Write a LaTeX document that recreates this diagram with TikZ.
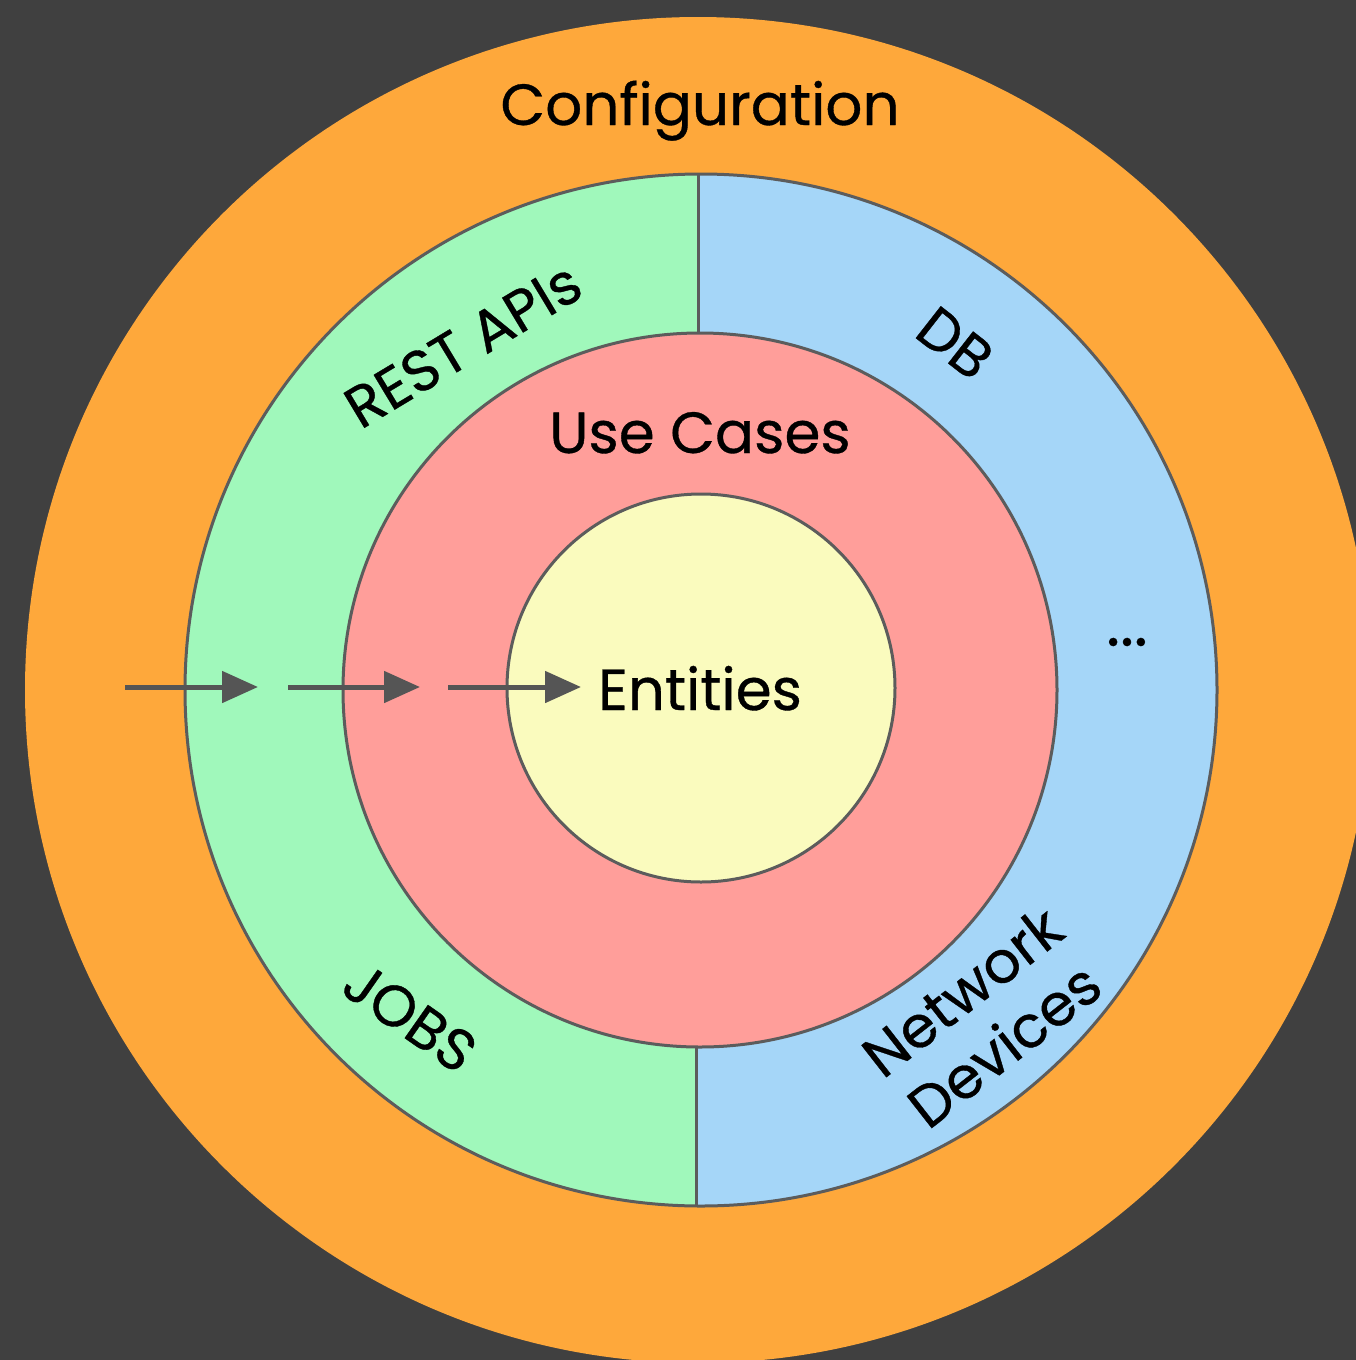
\documentclass[tikz,border=0pt]{standalone}
\usepackage{fontspec}
\setmainfont{Poppins}[FakeBold=0.6]
\usetikzlibrary{arrows.meta}
\definecolor{bgc}{HTML}{404040}
\definecolor{orangec}{HTML}{FEA83B}
\definecolor{greenc}{HTML}{A0F8BB}
\definecolor{bluec}{HTML}{A5D6F8}
\definecolor{redc}{HTML}{FF9E9A}
\definecolor{yellowc}{HTML}{FAFBBE}
\definecolor{rimc}{HTML}{5C5C5C}
\definecolor{arrowc}{HTML}{555555}
\tikzset{
  rim/.style={draw=rimc, line width=3pt},
  lbl/.style={font=\fontsize{58}{68}\selectfont, text=black, inner sep=0pt},
  flow/.style={draw=arrowc, line width=5pt, -{Triangle[length=36pt,width=31pt]}}
}
\begin{document}
\begin{tikzpicture}[x=1pt,y=-1pt]
\useasboundingbox (0,0) rectangle (1356,1360);
\fill[bgc] (0,0) rectangle (1356,1360);
\begin{scope}
  \clip (0,0) rectangle (1356,1360);
  \fill[orangec] (698,690) circle (673pt);
\end{scope}
% green / blue ring halves
\begin{scope}
  \clip (0,0) rectangle (697,1360);
  \fill[greenc] (701,690) circle (516pt);
\end{scope}
\begin{scope}
  \clip (697,0) rectangle (1356,1360);
  \fill[bluec] (701,690) circle (516pt);
\end{scope}
\draw[rim] (701,690) circle (516pt);
\coordinate (dt1) at (698,174);
\coordinate (dt2) at (698,334);
\coordinate (db1) at (696,1046);
\coordinate (db2) at (696,1206);
\draw[rim] (dt1) -- (dt2);
\draw[rim] (db1) -- (db2);
% red ring
\draw[rim, fill=redc] (700,690) circle (357pt);
% yellow core
\draw[rim, fill=yellowc] (701,688) circle (194pt);
% labels
\node[lbl, anchor=base] (config) at (700,125) {Configuration};
\node[lbl, anchor=base] (usecases) at (700,453) {Use Cases};
\node[lbl, anchor=base] (entities) at (700,710) {Entities};
\node[lbl, rotate=31] (rest) at (463,345) {REST APIs};
\node[lbl, rotate=-38] (db) at (955,343) {DB};
\node[lbl, rotate=-35] (jobs) at (410,1017) {JOBS};
\node[lbl, rotate=38, align=center] (net) at (983,1018) {Network\\Devices};
\node[font=\fontsize{66}{74}\selectfont, text=black, inner sep=0pt] (dots) at (1127,642) {...};
% arrows
\coordinate (a1s) at (125,687);
\coordinate (a1e) at (258,687);
\coordinate (a2s) at (288,687);
\coordinate (a2e) at (420,687);
\coordinate (a3s) at (448,687);
\coordinate (a3e) at (581,687);
\draw[flow] (a1s) -- (a1e);
\draw[flow] (a2s) -- (a2e);
\draw[flow] (a3s) -- (a3e);
\end{tikzpicture}
\end{document}
